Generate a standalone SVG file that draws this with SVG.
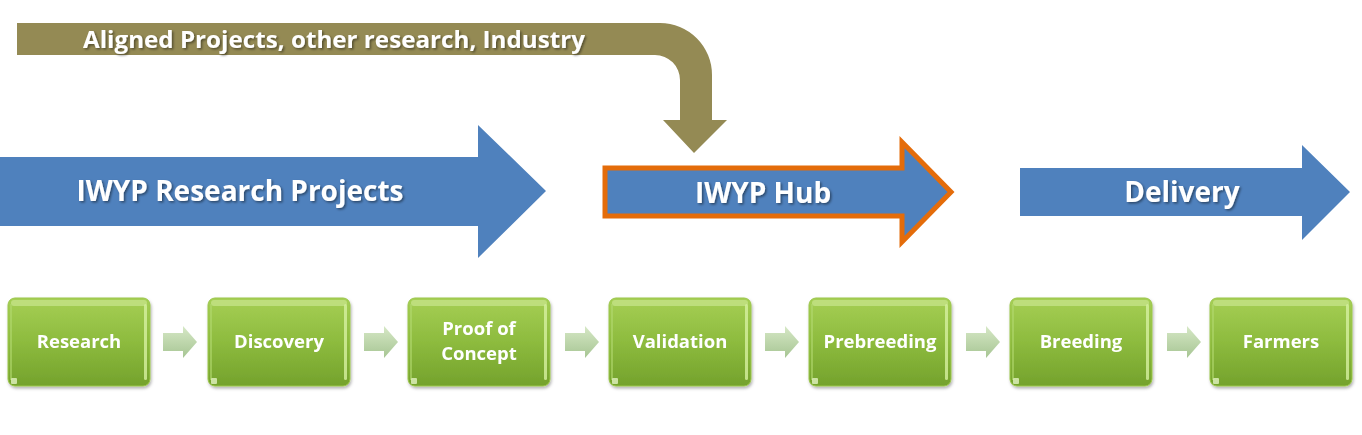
<svg xmlns="http://www.w3.org/2000/svg" width="1362" height="435" viewBox="0 0 1362 435">
<defs>
<linearGradient id="gb" x1="0" y1="0" x2="0" y2="1">
<stop offset="0" stop-color="#a6cf55"/>
<stop offset="0.5" stop-color="#8dbb3e"/>
<stop offset="1" stop-color="#74a22c"/>
</linearGradient>
<linearGradient id="ga" x1="0" y1="0" x2="0" y2="1">
<stop offset="0" stop-color="#d6e8c6"/>
<stop offset="1" stop-color="#a6c593"/>
</linearGradient>
<filter id="ts" x="-10%" y="-30%" width="120%" height="160%">
<feDropShadow dx="1.5" dy="1.5" stdDeviation="1" flood-color="#000" flood-opacity="0.45"/>
</filter>
<filter id="bs" x="-10%" y="-10%" width="125%" height="130%">
<feDropShadow dx="1" dy="2" stdDeviation="1.5" flood-color="#000" flood-opacity="0.3"/>
</filter>
<g id="box">
<rect x="0" y="0" width="142" height="88" rx="7" fill="url(#gb)" stroke="#9bc64a" stroke-width="1"/>
<rect x="3" y="2" width="136" height="6" rx="3" fill="#c9e58f" opacity="0.7"/>
<rect x="136" y="6" width="3" height="76" rx="1.5" fill="#d6f0a0" opacity="0.8"/>
<rect x="2" y="6" width="2" height="76" fill="#b3d870" opacity="0.6"/>
<rect x="3" y="80" width="6" height="6" rx="1" fill="#e2f3c0" opacity="0.8"/>
</g>
<path id="sa" d="M0,7 H20 V0 L34,16 L20,32 V25 H0 Z"/>
</defs>
<style>
.t{font-family:"Open Sans","Liberation Sans",sans-serif;font-weight:700;fill:#fff;text-anchor:middle}
.big{font-size:28px}
.sm{font-size:18.5px}
</style>

<g id="aligned">
<path d="M17,23 H660 A52,52 0 0 1 712,75 V120 H727 L694,153 L663,120 H680 V80 A25,25 0 0 0 655,55 H17 Z" fill="#948a54"/>
<text class="t" x="334" y="48" style="font-size:24px" filter="url(#ts)" textLength="502" lengthAdjust="spacingAndGlyphs">Aligned Projects, other research, Industry</text>
</g>

<g id="research-projects">
<path d="M0,157 H478 V125 L546,191 L478,258 V226 H0 Z" fill="#4f81bd"/>
<text class="t big" x="240" y="201" filter="url(#ts)">IWYP Research Projects</text>
</g>

<g id="hub">
<path d="M605,168 H902 V142 L951,192 L902,242 V216 H605 Z" fill="#4f81bd" stroke="#e46c0a" stroke-width="5"/>
<text class="t big" x="763" y="203" filter="url(#ts)">IWYP Hub</text>
</g>

<g id="delivery">
<path d="M1020,168 H1302 V145 L1350,192 L1302,240 V216 H1020 Z" fill="#4f81bd"/>
<text class="t big" x="1182" y="202" filter="url(#ts)">Delivery</text>
</g>

<g id="connectors" fill="url(#ga)">
<use href="#sa" x="163" y="326"/>
<use href="#sa" x="364" y="326"/>
<use href="#sa" x="565" y="326"/>
<use href="#sa" x="765" y="326"/>
<use href="#sa" x="966" y="326"/>
<use href="#sa" x="1167" y="326"/>
</g>

<g id="n-research" filter="url(#bs)"><use href="#box" x="8" y="298"/><text class="t sm" x="79" y="348">Research</text></g>
<g id="n-discovery" filter="url(#bs)"><use href="#box" x="208" y="298"/><text class="t sm" x="279" y="348">Discovery</text></g>
<g id="n-proof" filter="url(#bs)"><use href="#box" x="408" y="298"/><text class="t sm" x="479" y="335">Proof of</text><text class="t sm" x="479" y="360">Concept</text></g>
<g id="n-validation" filter="url(#bs)"><use href="#box" x="609" y="298"/><text class="t sm" x="680" y="348">Validation</text></g>
<g id="n-prebreeding" filter="url(#bs)"><use href="#box" x="809" y="298"/><text class="t sm" x="880" y="348">Prebreeding</text></g>
<g id="n-breeding" filter="url(#bs)"><use href="#box" x="1010" y="298"/><text class="t sm" x="1081" y="348">Breeding</text></g>
<g id="n-farmers" filter="url(#bs)"><use href="#box" x="1210" y="298"/><text class="t sm" x="1281" y="348">Farmers</text></g>
</svg>
